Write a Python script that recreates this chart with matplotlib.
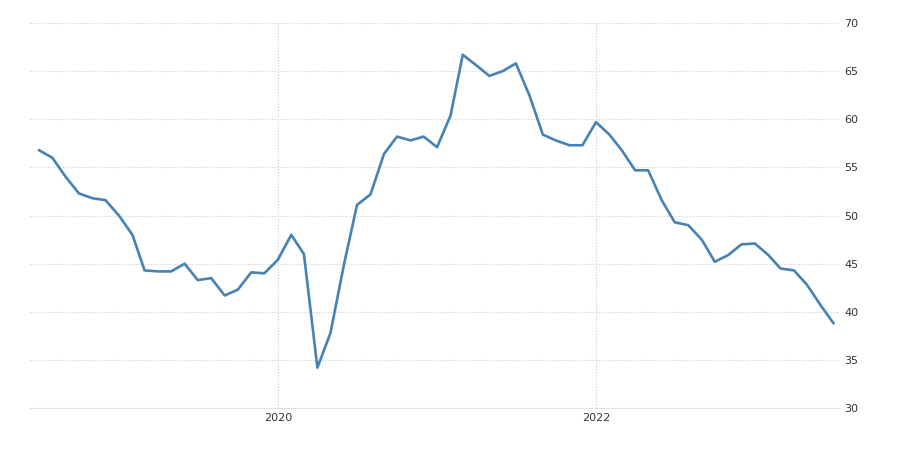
import matplotlib
matplotlib.use("Agg")
import matplotlib.pyplot as plt
import matplotlib.dates as mdates
import pandas as pd

# monthly values, Jul 2018 .. Jul 2023
months = pd.date_range("2018-07-01", periods=61, freq="MS")
values = [
    56.8, 56.0, 54.0, 52.3, 51.8, 51.6, 50.0, 48.0, 44.3, 44.2,
    44.2, 45.0, 43.3, 43.5, 41.7, 42.3, 44.1, 44.0, 45.4, 48.0,
    46.0, 34.2, 37.8, 44.9, 51.1, 52.2, 56.4, 58.2, 57.8, 58.2,
    57.1, 60.4, 66.7, 65.6, 64.5, 65.0, 65.8, 62.5, 58.4, 57.8,
    57.3, 57.3, 59.7, 58.4, 56.8, 54.7, 54.7, 51.6, 49.3, 49.0,
    47.5, 45.2, 45.9, 47.0, 47.1, 45.9, 44.5, 44.3, 42.8, 40.7,
    38.8,
]
y_ticks = [30, 35, 40, 45, 50, 55, 60, 65, 70]

fig = plt.figure(figsize=(9, 4.5), dpi=100)
ax = fig.add_axes([0.033, 0.093, 0.9, 0.856])
ax.plot(months, values, color="#4682b4", linewidth=1.9,
        solid_joinstyle="round", solid_capstyle="round")

ax.set_ylim(30, 70)
ax.set_yticks(y_ticks)
ax.set_xlim(pd.Timestamp("2018-06-10"), pd.Timestamp("2023-07-15"))
ax.xaxis.set_major_locator(mdates.YearLocator(2))
ax.xaxis.set_major_formatter(mdates.DateFormatter("%Y"))

ax.yaxis.tick_right()
ax.tick_params(axis="both", length=0, labelsize=8, colors="#333333")
ax.grid(True, linestyle=":", color="#cccccc", linewidth=0.8)
for side in ("top", "left", "right"):
    ax.spines[side].set_visible(False)
ax.spines["bottom"].set_color("#e0e0e0")

fig.savefig("out.png", dpi=100)
